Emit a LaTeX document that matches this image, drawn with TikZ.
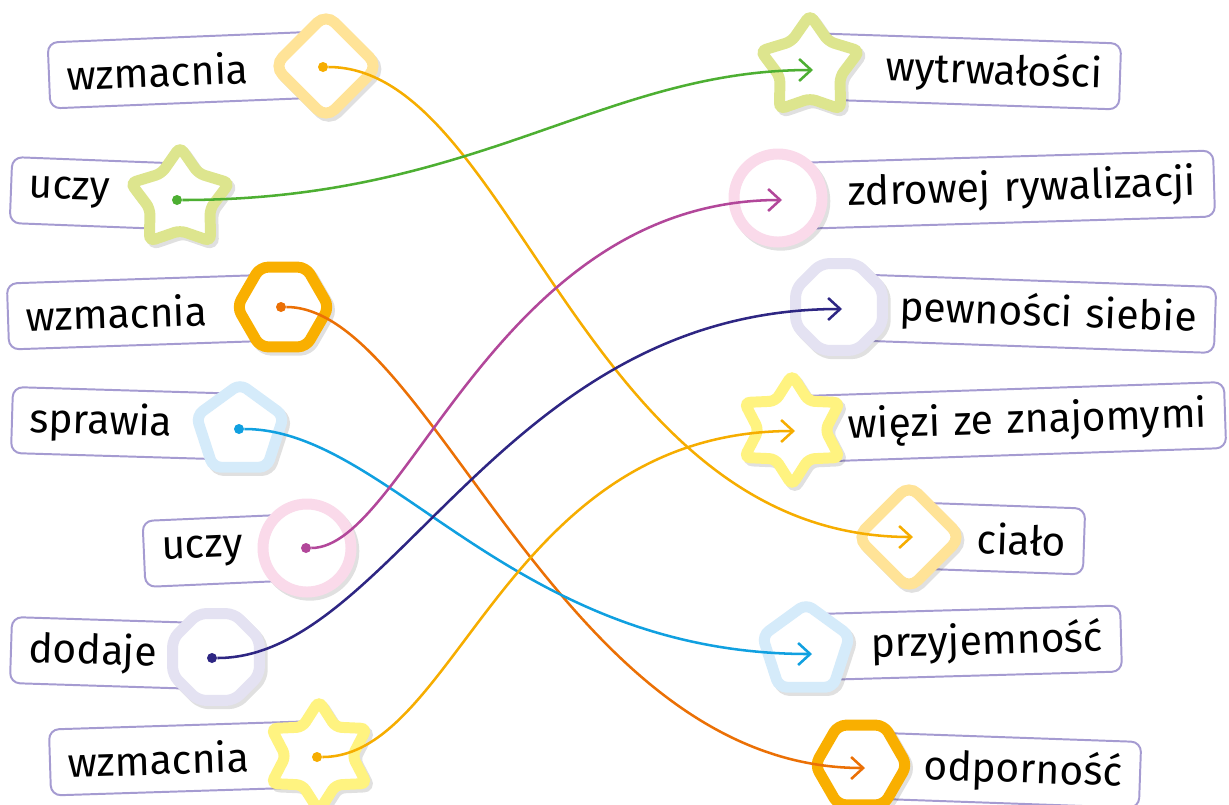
\documentclass[tikz,border=0pt]{standalone}
\usepackage{fontspec}
\setmainfont{Fira Sans}
\usepackage{xcolor}
\usepackage{tikz}
\usetikzlibrary{shapes.geometric,arrows.meta}

\definecolor{boxline}{HTML}{A59BD1}
\definecolor{cdia}{HTML}{FFE397}
\definecolor{cstar}{HTML}{DDE58E}
\definecolor{chex}{HTML}{F9AF00}
\definecolor{cpent}{HTML}{D5EBFA}
\definecolor{cring}{HTML}{FADAEA}
\definecolor{coct}{HTML}{E4E2F2}
\definecolor{csix}{HTML}{FFF380}
\definecolor{lA}{HTML}{F6AD00}
\definecolor{lG}{HTML}{4DAF32}
\definecolor{lO}{HTML}{EB7005}
\definecolor{lB}{HTML}{10A0E0}
\definecolor{lM}{HTML}{B2479A}
\definecolor{lN}{HTML}{2E2683}

\begin{document}
\begin{tikzpicture}[x=0.025cm, y=-0.025cm,
  lbox/.style={draw=boxline, line width=1.4pt, rounded corners=0.25cm, fill=white, minimum height=1.65cm, inner xsep=0.45cm, anchor=west, align=left, font=\fontsize{29}{35}\selectfont},
  rbox/.style={lbox, anchor=east, align=right},
  shp/.style={line width=7.8pt, fill=white, inner sep=0pt, preaction={draw=black, draw opacity=0.12, transform canvas={shift={(0.07cm,-0.08cm)}}}},
  dia/.style={shp, draw=cdia, regular polygon, regular polygon sides=4, shape border rotate=45, minimum size=2.6cm, rounded corners=0.3cm},
  starv/.style={shp, draw=cstar, star, star points=5, star point ratio=1.65, minimum size=2.6cm, rounded corners=0.15cm},
  hexa/.style={shp, draw=chex, regular polygon, regular polygon sides=6, minimum size=2.3cm, rounded corners=0.2cm},
  penta/.style={shp, draw=cpent, regular polygon, regular polygon sides=5, minimum size=2.3cm, rounded corners=0.2cm},
  ring/.style={shp, draw=cring, circle, minimum size=2.2cm},
  octa/.style={shp, draw=coct, regular polygon, regular polygon sides=8, minimum size=2.35cm, rounded corners=0.2cm},
  starvi/.style={shp, draw=csix, star, star points=6, star point ratio=1.65, minimum size=2.75cm, rounded corners=0.15cm},
  dot/.style={circle, inner sep=0pt, minimum size=0.25cm},
  link/.style={line width=1.8pt, -{Straight Barb[length=0.3cm,width=0.55cm]}}
]
  \useasboundingbox (0,0) rectangle (1229,804);

  % left column
  \node[lbox, rotate=2.3, text width=5.975cm] (b1) at (48,75.5) {wzmacnia};
  \node[lbox, rotate=-2.2, text width=3.3cm] (b2) at (10,190) {uczy};
  \node[lbox, rotate=1.9, text width=5.95cm] (b3) at (7,316.5) {wzmacnia};
  \node[lbox, rotate=-1.7, text width=4.825cm] (b4) at (11,420) {sprawia};
  \node[lbox, rotate=2.5, text width=3.2cm] (b5) at (143,554) {uczy};
  \node[lbox, rotate=-1.8, text width=4.175cm] (b6) at (10,650) {dodaje};
  \node[lbox, rotate=1.8, text width=5.8cm] (b7) at (49,762.5) {wzmacnia};

  % right column
  \node[rbox, rotate=-1.9, text width=6.825cm] (c1) at (1121,76.5) {wytrwałości};
  \node[rbox, rotate=1.7, text width=10.025cm] (c2) at (1215,183.5) {zdrowej rywalizacji};
  \node[rbox, rotate=-2, text width=8.5cm] (c3) at (1216,320) {pewności siebie};
  \node[rbox, rotate=1.9, text width=10cm] (c4) at (1226,415) {więzi ze znajomymi};
  \node[rbox, rotate=-2, text width=3.525cm] (c5) at (1085,541.5) {ciało};
  \node[rbox, rotate=1.6, text width=6.975cm] (c6) at (1122,638.5) {przyjemność};
  \node[rbox, rotate=-2, text width=6.125cm] (c7) at (1141,775) {odporność};

  % shapes
  \node[dia] (s1) at (326,66) {};
  \node[starv] (s2) at (180,199) {};
  \node[hexa] (s3) at (283,307) {};
  \node[penta] (s4) at (240,430) {};
  \node[ring] (s5) at (307,548) {};
  \node[octa] (s6) at (216,657) {};
  \node[starvi] (s7) at (319,756) {};

  \node[starv] (r1) at (810,67) {};
  \node[ring] (r2) at (778,198) {};
  \node[octa] (r3) at (839,307) {};
  \node[starvi] (r4) at (792,430) {};
  \node[dia] (r5) at (909,537) {};
  \node[penta] (r6) at (806,650) {};
  \node[hexa] (r7) at (861,765) {};

  % start dots and arrow ends
  \foreach \n/\x/\y/\c in {1/323/67/lA, 2/177/200/lG, 3/281/307/lO, 4/239/429/lB, 5/306/548/lM, 6/212/658/lN, 7/317/757/lA}
    \node[dot, fill=\c] (d\n) at (\x,\y) {};
  \foreach \n/\x/\y in {1/813/70, 2/782/200, 3/842/309, 4/795/431, 5/913/537, 6/812/654, 7/865/768}
    \coordinate (t\n) at (\x,\y);

  \foreach \a/\b/\o/\i/\c in {d1/t5/190/330/lA, d2/t1/300/210/lG, d3/t7/150/305/lO, d4/t6/150/300/lB, d5/t2/100/285/lM, d6/t3/180/340/lN, d7/t4/140/290/lA}
    \draw[link, \c] (\a) .. controls +(\o,0) and +(-\i,0) .. (\b);
\end{tikzpicture}
\end{document}
